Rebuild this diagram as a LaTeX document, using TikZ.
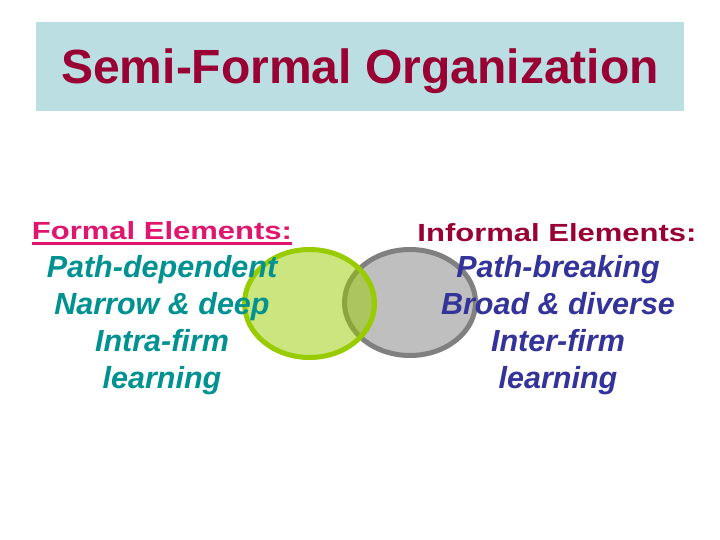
\documentclass[tikz,border=0pt]{standalone}
\usepackage{fontspec}
\setmainfont{Liberation Sans}
\usepackage{graphicx}
\usetikzlibrary{positioning, shapes.geometric}
\definecolor{titlebg}{HTML}{BBDEE2}
\definecolor{titlered}{HTML}{990033}
\definecolor{pinkred}{HTML}{E0156E}
\definecolor{tealtext}{HTML}{009191}
\definecolor{navytext}{HTML}{333399}
\definecolor{limering}{HTML}{99CC00}
\definecolor{grayring}{HTML}{808080}
\definecolor{grayfill}{HTML}{BFBFBF}
\tikzstyle{headnode}=[inner sep=0pt,anchor=base,
  font=\fontsize{31}{37}\selectfont\bfseries]
\tikzstyle{bodynode}=[inner sep=0pt,anchor=north,align=center,
  font=\fontsize{30.5}{37}\selectfont\bfseries\itshape]
\tikzstyle{setnode}=[ellipse,line width=5pt,inner sep=0pt]
\newcommand{\squash}[1]{\scalebox{1}[0.8]{#1}}

\begin{document}
\begin{tikzpicture}[x=1pt,y=-1pt]
  \useasboundingbox[fill=white] (0,0) rectangle (720,540);
  \node[fill=titlebg,minimum width=648pt,minimum height=89pt,
    text height=34.5pt,text depth=0pt,inner sep=0pt,
    font=\fontsize{48}{56}\selectfont\bfseries,text=titlered] (title) at (360,66.5)
    {Semi-Formal Organization};
  % the two overlapping sets
  \node[setnode,draw=grayring,fill=grayfill,minimum width=131pt,minimum height=106pt] (informalset) at (410,302.5) {};
  \node[setnode,draw=limering,fill=limering,fill opacity=0.5,minimum width=130pt,minimum height=108pt] (formalset) at (309.5,303.5) {};
  % left column
  \node[headnode,text=pinkred] (formalhead) at (162,239.5)
    {\squash{Formal Elements:}};
  \draw[pinkred,line width=2.7pt] ([yshift=-4.3pt]formalhead.base west) -- ([yshift=-4.3pt]formalhead.base east);
  \node[bodynode,text=tealtext] (formalbody) at (162,255.5)
    {Path-dependent\\Narrow \& deep\\Intra-firm\\learning};
  % right column
  \node[headnode,text=titlered] (informalhead) at (557,241.5)
    {\squash{Informal Elements:}};
  \node[bodynode,text=navytext] (informalbody) at (558,255.5)
    {Path-breaking\\Broad \& diverse\\Inter-firm\\learning};
\end{tikzpicture}
\end{document}
